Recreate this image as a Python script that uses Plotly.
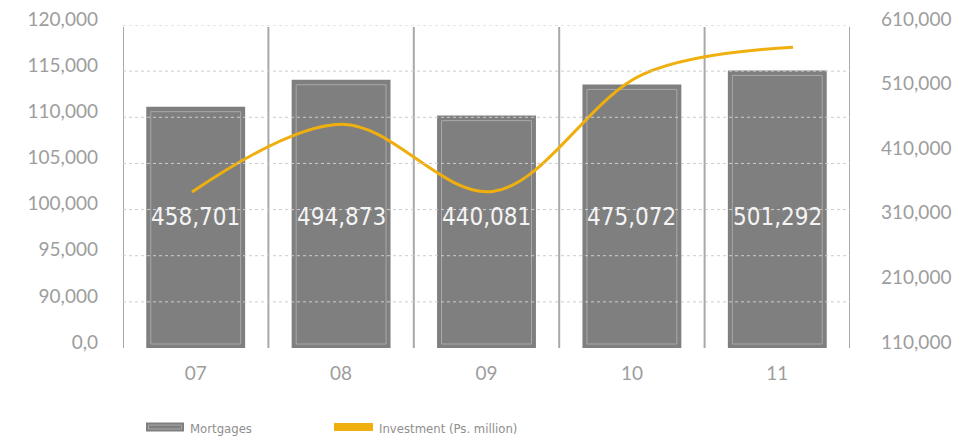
import plotly.graph_objects as go

# ---- data -------------------------------------------------------------
years = ["07", "08", "09", "10", "11"]
mortgages = [111150, 114070, 110180, 113560, 115080]          # left axis
investment = [351400, 456500, 352300, 533700, 575600]         # right axis (Ps. million)
bar_labels = ["458,701", "494,873", "440,081", "475,072", "501,292"]

left_tickvals = [85000, 90000, 95000, 100000, 105000, 110000, 115000, 120000]
left_ticktext = ["0,0", "90,000", "95,000", "100,000", "105,000", "110,000", "115,000", "120,000"]
right_tickvals = [110000, 210000, 310000, 410000, 510000, 610000]
right_ticktext = ["110,000", "210,000", "310,000", "410,000", "510,000", "610,000"]

# ---- layout geometry ----------------------------------------------------
W, H = 963, 438
ML, MR, MT, MB = 123, 113, 25, 90
PW, PH = W - ML - MR, H - MT - MB
Y_RANGE = [85000, 120000]
Y2_RANGE = [110000, 610000]
BAR_W = 0.68

GRAY = "#7f7f7f"
INNER = "#a9a9a9"
GOLD = "#efb00f"
TICK = "#9d9d9d"
NARROW = "DejaVu Sans Condensed, Roboto, sans-serif"


def px_x(p):
    return (p - ML) / PW


def px_y(p):
    return (MT + PH - p) / PH


units_per_px = (Y_RANGE[1] - Y_RANGE[0]) / PH
cat_per_px = len(years) / PW

fig = go.Figure()

# outer bars
fig.add_trace(go.Bar(
    x=years, y=mortgages, width=BAR_W,
    marker=dict(color=GRAY, line=dict(width=0)),
    name="Mortgages", hoverinfo="skip",
))
# inset light frame inside each bar
top_inset = 5 * units_per_px
bot_inset = 4 * units_per_px
fig.add_trace(go.Bar(
    x=years,
    y=[v - top_inset - (Y_RANGE[0] + bot_inset) for v in mortgages],
    base=[Y_RANGE[0] + bot_inset] * len(years),
    width=BAR_W - 2 * 4.5 * cat_per_px,
    marker=dict(color="rgba(0,0,0,0)", line=dict(color=INNER, width=1)),
    hoverinfo="skip", showlegend=False,
))

# investment line on its own horizontal scale
fig.add_trace(go.Scatter(
    x=years, y=investment, xaxis="x2", yaxis="y2",
    mode="lines", line=dict(color=GOLD, width=3, shape="spline", smoothing=1.0),
    name="Investment (Ps. million)", hoverinfo="skip",
))

shapes = []
# dashed horizontal gridlines, drawn over the bars
for v in left_tickvals[1:]:
    shapes.append(dict(type="line", xref="paper", yref="y", x0=0, x1=1, y0=v, y1=v,
                       line=dict(color="#cdcdcd", width=1, dash="3px,3px"), layer="above"))
# solid vertical separators at category boundaries
for i in range(len(years) + 1):
    shapes.append(dict(type="line", xref="x", yref="paper", x0=i - 0.5, x1=i - 0.5,
                       y0=0, y1=px_y(27), line=dict(color="#a8a8a8", width=2), layer="below"))

# legend symbols
shapes.append(dict(type="rect", xref="paper", yref="paper",
                   x0=px_x(146), x1=px_x(184), y0=px_y(431.5), y1=px_y(422.5),
                   fillcolor=GRAY, line=dict(width=0)))
shapes.append(dict(type="rect", xref="paper", yref="paper",
                   x0=px_x(148.5), x1=px_x(181.5), y0=px_y(429), y1=px_y(425),
                   fillcolor="rgba(0,0,0,0)", line=dict(color=INNER, width=1)))
shapes.append(dict(type="rect", xref="paper", yref="paper",
                   x0=px_x(334), x1=px_x(373), y0=px_y(431), y1=px_y(423),
                   fillcolor=GOLD, line=dict(width=0)))

annotations = []
for i, lab in enumerate(bar_labels):
    annotations.append(dict(x=i, xref="x", y=px_y(217), yref="paper", text=lab,
                            showarrow=False,
                            font=dict(family=NARROW, size=24, color="#f4f4f4"),
                            xanchor="center", yanchor="middle"))
annotations.append(dict(x=px_x(188), y=px_y(428), xref="paper", yref="paper", text="Mortgages",
                        showarrow=False, xanchor="left", yanchor="middle",
                        font=dict(family=NARROW, size=13, color="#8e8e8e")))
annotations.append(dict(x=px_x(377), y=px_y(428), xref="paper", yref="paper",
                        text="Investment (Ps. million)", showarrow=False,
                        xanchor="left", yanchor="middle",
                        font=dict(family=NARROW, size=13, color="#8e8e8e")))

# second x scale for the line: points start slightly left of the first bar
# and are spaced a little wider than the categories
line_start_px, line_step_px = 192, 150.25
x2_lo = -(line_start_px - ML) / line_step_px
x2_hi = x2_lo + PW / line_step_px

TICKFONT = dict(family="Lato, sans-serif", size=19, color=TICK)

fig.update_layout(
    width=W, height=H,
    margin=dict(l=ML, r=MR, t=MT, b=MB, pad=0, autoexpand=False),
    paper_bgcolor="white", plot_bgcolor="white",
    barmode="overlay", showlegend=False,
    font=dict(family="Lato, sans-serif", color=TICK),
    xaxis=dict(type="category", range=[-0.5, len(years) - 0.5], showgrid=False,
               zeroline=False, showline=False, ticks="", automargin=False,
               tickfont=TICKFONT, ticklabelstandoff=12),
    xaxis2=dict(type="category", overlaying="x", range=[x2_lo, x2_hi], visible=False),
    yaxis=dict(range=Y_RANGE, tickvals=left_tickvals, ticktext=left_ticktext,
               showgrid=False, zeroline=False, showline=False, ticks="", automargin=False,
               tickfont=TICKFONT, ticklabelstandoff=24, ticklabelshift=-6),
    yaxis2=dict(range=Y2_RANGE, tickvals=right_tickvals, ticktext=right_ticktext,
                overlaying="y", side="right", showgrid=False, zeroline=False,
                showline=False, ticks="", automargin=False,
                tickfont=TICKFONT, ticklabelstandoff=30, ticklabelshift=-6),
    shapes=shapes, annotations=annotations,
)

fig.write_html("out.html")
